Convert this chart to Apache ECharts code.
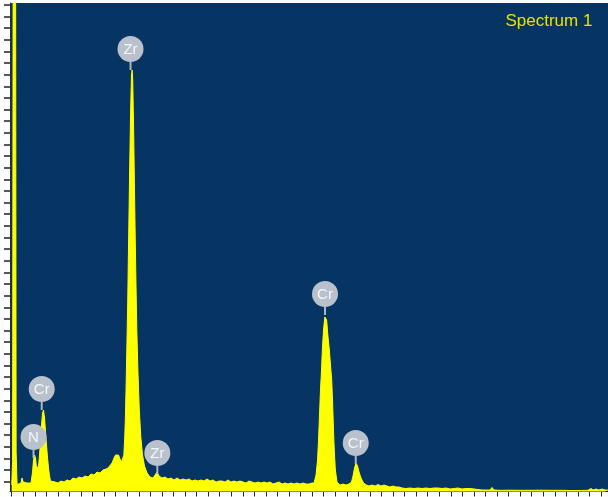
<!DOCTYPE html>
<html>
<head>
<meta charset="utf-8">
<script src="https://cdn.jsdelivr.net/npm/echarts@6/dist/echarts.min.js"></script>
<style>
  html, body { margin: 0; padding: 0; background: #ffffff; }
  #chart { width: 608px; height: 497px; }
</style>
</head>
<body>
<div id="chart"></div>
<script>
// EDS spectrum: energy (keV) and counts per sample point
const energy = [
  0.000, 0.015, 0.026, 0.066, 0.076, 0.092, 0.126, 0.161, 0.178, 0.196,
  0.230, 0.265, 0.299, 0.334, 0.360, 0.377, 0.395, 0.412, 0.429, 0.447,
  0.464, 0.481, 0.498, 0.516, 0.533, 0.550, 0.568, 0.585, 0.602, 0.620,
  0.637, 0.654, 0.672, 0.697, 0.749, 0.801, 0.853, 0.905, 0.957, 1.009,
  1.061, 1.113, 1.165, 1.217, 1.269, 1.321, 1.372, 1.424, 1.476, 1.528,
  1.580, 1.632, 1.667, 1.701, 1.736, 1.771, 1.796, 1.822, 1.848, 1.874,
  1.900, 1.923, 1.940, 1.954, 1.966, 1.978, 1.992, 2.008, 2.023, 2.041,
  2.058, 2.073, 2.084, 2.094, 2.110, 2.127, 2.146, 2.165, 2.186, 2.208,
  2.234, 2.264, 2.298, 2.342, 2.394, 2.446, 2.480, 2.515, 2.549, 2.601,
  2.653, 2.705, 2.757, 2.809, 2.861, 2.913, 2.965, 3.017, 3.069, 3.120,
  3.172, 3.224, 3.276, 3.328, 3.380, 3.432, 3.484, 3.536, 3.588, 3.640,
  3.692, 3.744, 3.795, 3.847, 3.899, 3.951, 4.003, 4.055, 4.107, 4.159,
  4.211, 4.263, 4.315, 4.367, 4.419, 4.470, 4.522, 4.574, 4.626, 4.678,
  4.730, 4.782, 4.834, 4.886, 4.938, 4.990, 5.042, 5.094, 5.145, 5.197,
  5.232, 5.267, 5.293, 5.310, 5.327, 5.344, 5.362, 5.376, 5.396, 5.419,
  5.434, 5.450, 5.471, 5.497, 5.517, 5.538, 5.552, 5.566, 5.582, 5.601,
  5.630, 5.682, 5.734, 5.786, 5.838, 5.881, 5.907, 5.933, 5.959, 5.985,
  6.011, 6.045, 6.089, 6.141, 6.184, 6.236, 6.288, 6.340, 6.392, 6.443,
  6.495, 6.547, 6.599, 6.651, 6.703, 6.755, 6.824, 6.893, 6.963, 7.032,
  7.101, 7.170, 7.240, 7.309, 7.378, 7.447, 7.517, 7.586, 7.655, 7.724,
  7.793, 7.863, 7.932, 8.001, 8.070, 8.140, 8.209, 8.278, 8.313, 8.347,
  8.451, 8.624, 8.797, 8.970, 9.143, 9.316, 9.490, 9.663, 9.836, 9.974,
  10.026, 10.061, 10.113, 10.165, 10.217, 10.268, 10.320
];
const counts = [
  65, 300, 6000, 6000, 400, 70, 75, 85, 135, 95,
  75, 85, 75, 85, 195, 315, 365, 335, 235, 215,
  255, 365, 515, 665, 785, 815, 735, 595, 465, 335,
  235, 155, 105, 85, 95, 85, 105, 95, 115, 105,
  135, 125, 145, 135, 155, 145, 175, 165, 195, 185,
  215, 225, 235, 255, 285, 335, 365, 385, 365, 325,
  295, 295, 365, 515, 715, 1015, 1415, 1915, 2515, 3215,
  3815, 4165, 4215, 4115, 3615, 2915, 2215, 1615, 1165, 815,
  545, 365, 255, 185, 145, 135, 155, 195, 155, 135,
  145, 125, 135, 115, 135, 115, 125, 115, 125, 105,
  115, 105, 115, 105, 125, 105, 115, 95, 105, 105,
  95, 115, 95, 105, 95, 105, 95, 85, 105, 95,
  85, 95, 85, 95, 85, 95, 75, 85, 95, 75,
  85, 75, 85, 75, 85, 75, 85, 75, 75, 85,
  85, 165, 315, 515, 765, 1015, 1215, 1415, 1615, 1745,
  1765, 1715, 1565, 1415, 1265, 1115, 915, 665, 415, 215,
  95, 65, 75, 65, 75, 95, 155, 235, 285, 255,
  195, 135, 85, 65, 55, 65, 55, 70, 55, 65,
  55, 45, 55, 45, 45, 35, 30, 35, 30, 35,
  30, 35, 30, 35, 35, 30, 35, 25, 30, 35,
  25, 30, 30, 25, 20, 15, 15, 15, 40, 15,
  12, 13, 12, 12, 13, 12, 12, 10, 10, 12,
  30, 15, 25, 15, 25, 15, 15
];

// Identified lines: element, energy (keV), count at the marker stem foot
const peakNames = ['N', 'Cr', 'Zr', 'Zr', 'Cr', 'Cr'];
const peakEnergy = [0.377, 0.519, 2.056, 2.520, 5.422, 5.954];
const peakCounts = [335, 815, 4215, 175, 1765, 275];

const spectrumTitle = 'Spectrum 1';

// Minor tick positions (keV along x, counts along y)
const xTicks = [];
for (let i = 0; i <= 51; i++) xTicks.push(+(i * 0.2).toFixed(1));
const yTicks = [];
for (let i = 0; i <= 41; i++) yTicks.push(+(98 + i * 116.3).toFixed(1));

const chart = echarts.init(document.getElementById('chart'), null, { renderer: 'canvas' });

const yellow = '#FFFF00';

chart.setOption({
  animation: false,
  backgroundColor: '#ffffff',
  title: {
    text: spectrumTitle,
    right: 10,
    top: 8,
    textStyle: {
      color: '#E2E400',
      fontSize: 17,
      fontWeight: 'normal',
      fontFamily: '"Liberation Sans", Arial, sans-serif',
      textBorderColor: 'rgba(40,60,20,0.6)',
      textBorderWidth: 0.6
    }
  },
  grid: {
    left: 10, right: 0, top: 3, bottom: 5.5,
    show: true,
    backgroundColor: '#063463',
    borderWidth: 0
  },
  xAxis: {
    type: 'value',
    min: -0.03,
    max: 10.32,
    splitLine: { show: false },
    axisLabel: { show: false },
    axisLine: { show: true, onZero: false, lineStyle: { color: '#2a2a2a', width: 1 } },
    axisTick: {
      show: true, inside: false, length: 5,
      customValues: xTicks,
      lineStyle: { color: '#2a2a2a', width: 1 }
    }
  },
  yAxis: {
    type: 'value',
    min: 0,
    max: 4885,
    splitLine: { show: false },
    axisLabel: { show: false },
    axisLine: { show: true, onZero: false, lineStyle: { color: '#2a2a2a', width: 1 } },
    axisTick: {
      show: true, inside: false, length: 6,
      customValues: yTicks,
      lineStyle: { color: '#222222', width: 1.5 }
    }
  },
  series: [
    {
      type: 'line',
      data: energy.map((e, i) => [e, counts[i]]),
      showSymbol: false,
      smooth: false,
      clip: true,
      lineStyle: { color: yellow, width: 1 },
      areaStyle: { color: yellow, opacity: 1, origin: 'start' },
      z: 2
    },
    {
      type: 'custom',
      clip: false,
      z: 5,
      data: peakNames.map((n, i) => [peakEnergy[i], peakCounts[i], n]),
      encode: { x: 0, y: 1 },
      renderItem: function (params, api) {
        const p = api.coord([api.value(0), api.value(1)]);
        const lift = 21, r = 13;
        const name = peakNames[params.dataIndex];
        return {
          type: 'group',
          children: [
            {
              type: 'line',
              shape: { x1: p[0], y1: p[1], x2: p[0], y2: p[1] - lift + r },
              style: { stroke: '#AEB6C2', lineWidth: 2 }
            },
            {
              type: 'circle',
              shape: { cx: p[0], cy: p[1] - lift, r: r },
              style: { fill: '#B9C1CD' }
            },
            {
              type: 'text',
              style: {
                text: name,
                x: p[0], y: p[1] - lift + 0.5,
                align: 'center', verticalAlign: 'middle',
                fill: '#F4F7FA',
                font: '15px "Liberation Sans", Arial, sans-serif'
              }
            }
          ]
        };
      }
    }
  ]
});
</script>
</body>
</html>
